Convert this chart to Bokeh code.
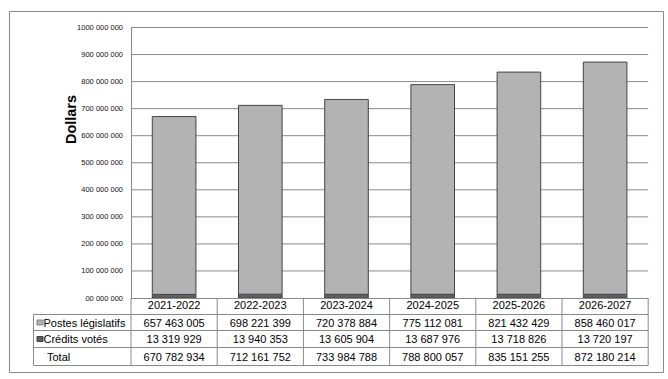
import math
from bokeh.plotting import figure
from bokeh.models import Range1d, LinearAxis, FixedTicker, Label
from bokeh.embed import file_html
from bokeh.resources import INLINE
from bokeh.core.properties import value

# ---------------- data ----------------
years = ["2021-2022", "2022-2023", "2023-2024", "2024-2025", "2025-2026", "2026-2027"]
postes = [657463005, 698221399, 720378884, 775112081, 821432429, 858460017]
credits = [13319929, 13940353, 13605904, 13687976, 13718826, 13720197]
totals = [670782934, 712161752, 733984788, 788800057, 835151255, 872180214]
y_ticks = [0, 100000000, 200000000, 300000000, 400000000, 500000000,
           600000000, 700000000, 800000000, 900000000, 1000000000]
y_tick_labels = ["00 000 000", "100 000 000", "200 000 000", "300 000 000",
                 "400 000 000", "500 000 000", "600 000 000", "700 000 000",
                 "800 000 000", "900 000 000", "1000 000 000"]
row_labels = ["Postes législatifs", "Crédits votés", "Total"]
axis_title = "Dollars"

# ---------------- layout (page pixels) ----------------
PAGE = 0           # Bokeh's page template has no body margin
FRAME_L, FRAME_R = 9, 663
FRAME_T, FRAME_B = 11, 372
X0_PX = 130.5      # category axis start
CAT_PX = 86.2      # width of one category
Y0_PX = 297.5      # value 0
YTOP_PX = 27.0     # value 1e9
TABLE_L = 33
ROW_LINES = [314, 330, 347, 365]
FONT = value("Liberation Sans")

def dx(px):
    return (px - X0_PX) / CAT_PX

def dy(py):
    return (Y0_PX - py) * 1e9 / (Y0_PX - YTOP_PX)

W = 666
H = 376
p = figure(width=W, height=H, output_backend="svg", toolbar_location=None,
           x_range=Range1d(dx(FRAME_L), dx(FRAME_R)),
           y_range=Range1d(dy(FRAME_B), dy(FRAME_T)),
           x_axis_type=None, y_axis_type=None,
           min_border_left=FRAME_L - PAGE, min_border_right=W - (FRAME_R - PAGE),
           min_border_top=FRAME_T - PAGE, min_border_bottom=H - (FRAME_B - PAGE),
           tools="")
p.outline_line_color = "#888888"
p.outline_line_width = 1
p.background_fill_color = "white"
p.border_fill_color = "white"

n = len(years)
xc = [i + 0.5 for i in range(n)]
GRID = "#8a8a8a"

# gridlines
gy = [t for t in y_ticks if t > 0]
p.segment(x0=[0] * len(gy), x1=[n] * len(gy), y0=gy, y1=gy, line_color=GRID, line_width=1)

# stacked bars
BAR_W = 0.506
p.vbar(x=xc, width=BAR_W, bottom=[0] * n, top=credits, fill_color="#606060",
       line_color="#444444", line_width=1)
p.vbar(x=xc, width=BAR_W, bottom=credits, top=totals, fill_color="#b3b3b3",
       line_color="#444444", line_width=1)

# y axis
yax = LinearAxis(fixed_location=0, bounds=(0, 1e9),
                 ticker=FixedTicker(ticks=y_ticks),
                 major_label_overrides={t: l for t, l in zip(y_ticks, y_tick_labels)})
yax.axis_line_color = GRID
yax.major_tick_line_color = None
yax.minor_tick_line_color = None
yax.major_tick_out = 0
yax.major_tick_in = 0
yax.major_label_standoff = 8
yax.major_label_text_font = "Liberation Sans"
yax.major_label_text_font_size = "7.5px"
yax.major_label_text_color = "#111111"
p.add_layout(yax, "left")

# x axis = table header
xax = LinearAxis(fixed_location=0, bounds=(0, n),
                 ticker=FixedTicker(ticks=xc),
                 major_label_overrides={c: y for c, y in zip(xc, years)})
xax.axis_line_color = GRID
xax.major_tick_line_color = None
xax.minor_tick_line_color = None
xax.major_tick_out = 0
xax.major_tick_in = 0
xax.major_label_standoff = 3
xax.major_label_text_font = "Liberation Sans"
xax.major_label_text_font_size = "11px"
xax.major_label_text_color = "#000000"
p.add_layout(xax, "below")

# table lines
hy = [dy(r) for r in ROW_LINES]
p.segment(x0=[dx(TABLE_L)] * len(hy), x1=[n] * len(hy), y0=hy, y1=hy,
          line_color=GRID, line_width=1)
vx = list(range(n + 1))
p.segment(x0=vx, x1=vx, y0=[0] * len(vx), y1=[dy(ROW_LINES[-1])] * len(vx),
          line_color=GRID, line_width=1)
p.segment(x0=[dx(TABLE_L)], x1=[dx(TABLE_L)], y0=[dy(ROW_LINES[0])],
          y1=[dy(ROW_LINES[-1])], line_color=GRID, line_width=1)

def fmt(v):
    return f"{v:,}".replace(",", " ")

rows = [postes, credits, totals]
for r, vals in enumerate(rows):
    yc = dy((ROW_LINES[r] + ROW_LINES[r + 1]) / 2)
    p.text(x=xc, y=[yc] * n, text=[fmt(v) for v in vals], text_align="center",
           text_baseline="middle", text_font=FONT, text_font_size="11px",
           text_color="#000000")

# row labels with swatches
label_x = [dx(43), dx(43), dx(46.5)]
row_y = [dy((ROW_LINES[r] + ROW_LINES[r + 1]) / 2) for r in range(3)]
p.text(x=label_x, y=row_y, text=row_labels, text_align="left", text_baseline="middle",
       text_font=FONT, text_font_size="11px", text_color="#000000")
p.rect(x=[dx(39.5)] * 2, y=row_y[:2], width=6, height=5, width_units="screen",
       height_units="screen", fill_color=["#b3b3b3", "#606060"],
       line_color=["#808080", "#404040"], line_width=1)

# axis title
p.add_layout(Label(x=dx(70), y=dy(119), text=axis_title, angle=math.pi / 2,
                   text_align="center", text_baseline="middle",
                   text_font="Liberation Sans", text_font_style="bold",
                   text_font_size="14.5px", text_color="#000000"))

open("out.html", "w").write(file_html(p, INLINE))
